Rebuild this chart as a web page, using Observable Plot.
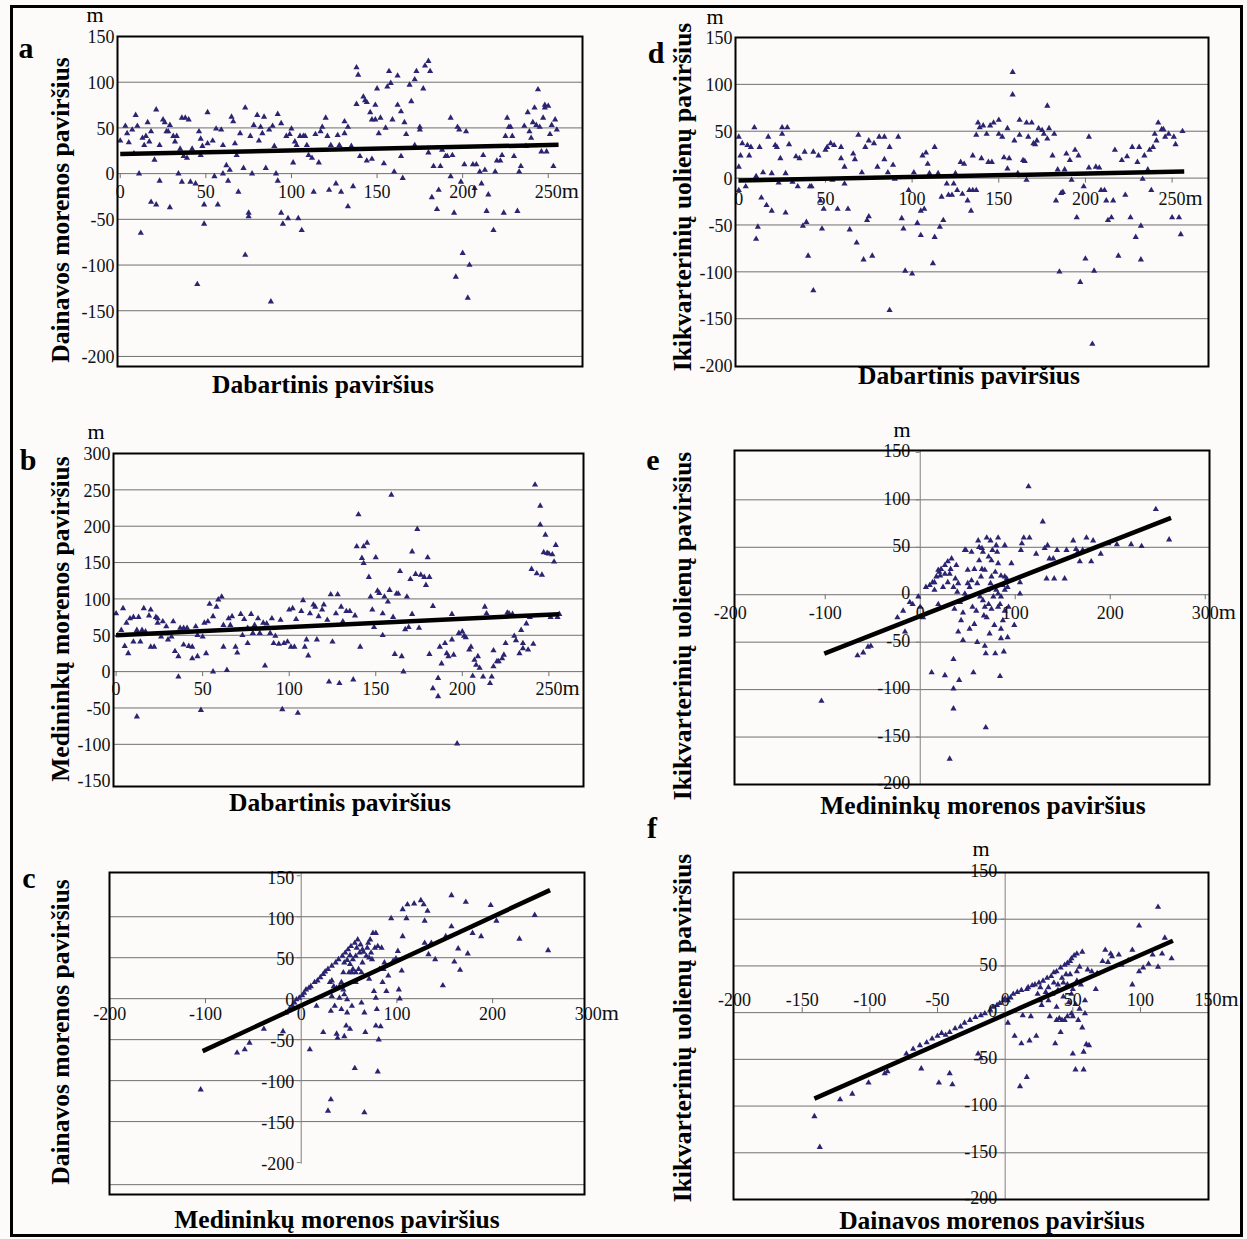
<!DOCTYPE html>
<html><head><meta charset="utf-8">
<script src="https://cdn.jsdelivr.net/npm/d3@7"></script>
<script src="https://cdn.jsdelivr.net/npm/@observablehq/plot@0.6"></script>
<style>
html,body{margin:0;padding:0;background:#fcfbf9;}
#fig{position:relative;width:1247px;height:1239px;overflow:hidden;background:#fcfbf9;font-family:"Liberation Serif","Times New Roman",serif;}
#fig svg{position:absolute;}
#border{position:absolute;left:10px;top:5px;width:1233px;height:1232px;border:3px solid #000;box-sizing:border-box;}
</style></head>
<body><div id="fig"><div id="border"></div></div>
<script>
// ---------- DATA ----------
// a: Dabartinis (x) vs Dainavos morenos (y)
const pointsA = [[0,36],[3,52],[4,44],[5,34],[7,48],[9,64],[8,22],[10,52],[11,0],[12,-65],[13,39],[14,31],[15,41],[16,56],[17,35],[18,-31],[18,46],[20,15],[21,-34],[21,70],[23,31],[23,-8],[25,59],[26,56],[27,46],[28,46],[29,53],[29,-37],[31,41],[32,35],[33,41],[34,0],[35,27],[36,-9],[36,61],[37,19],[38,61],[39,17],[40,59],[41,-9],[42,27],[44,-11],[45,-121],[46,46],[47,20],[47,38],[48,30],[49,-34],[49,-55],[51,33],[51,67],[54,36],[55,-3],[56,49],[57,-34],[59,48],[60,31],[60,0],[62,9],[63,-8],[64,4],[65,62],[66,57],[67,33],[68,20],[69,-20],[70,44],[72,6],[73,-89],[73,72],[75,-43],[75,-47],[76,41],[77,0],[78,53],[80,64],[81,36],[82,51],[83,44],[84,62],[85,6],[87,48],[88,-140],[89,52],[90,30],[91,0],[92,65],[92,-8],[94,55],[94,-43],[95,-55],[97,41],[98,-49],[99,43],[100,49],[101,12],[102,35],[103,31],[104,-49],[105,41],[106,-62],[107,41],[108,41],[109,31],[110,20],[112,17],[113,-20],[114,43],[116,12],[117,46],[118,51],[120,61],[121,41],[122,-18],[123,31],[126,-11],[127,42],[128,31],[129,-20],[131,44],[131,57],[133,51],[133,-36],[135,30],[136,-14],[138,116],[138,76],[139,108],[140,19],[142,84],[143,80],[144,14],[144,78],[146,67],[147,59],[147,16],[149,59],[149,75],[150,93],[151,44],[152,61],[154,11],[155,50],[156,95],[157,112],[158,99],[159,59],[160,2],[162,107],[162,75],[164,68],[164,19],[165,-5],[166,56],[167,43],[169,97],[170,79],[172,103],[172,31],[173,112],[175,51],[175,48],[177,93],[178,118],[180,123],[181,112],[180,23],[182,-26],[183,8],[185,-39],[186,-18],[187,8],[188,26],[190,19],[191,19],[193,-3],[193,61],[194,20],[195,-43],[196,-113],[197,51],[198,48],[199,-9],[200,-87],[201,10],[202,46],[203,-136],[204,-100],[206,10],[207,-16],[208,10],[210,2],[211,-11],[212,20],[213,4],[214,-41],[215,-23],[218,-62],[219,2],[220,14],[222,14],[223,20],[224,-43],[225,41],[226,61],[227,51],[228,51],[229,41],[230,19],[232,-41],[233,2],[234,8],[236,52],[238,67],[239,46],[240,39],[241,56],[242,72],[243,53],[244,92],[245,51],[247,61],[248,72],[248,75],[249,24],[250,74],[251,43],[252,53],[253,8],[254,59],[255,48],[237,30],[246,24]];
const trendA = [[0,21.5],[256,31.5]];

// d: Dabartinis (x) vs Ikikvarterinių uolienų (y)
const pointsD = [[0,44],[0,12],[0,-13],[1,24],[2,37],[4,-9],[5,35],[6,24],[7,33],[9,54],[10,2],[11,-52],[10,-65],[12,33],[13,-21],[14,6],[16,-29],[17,44],[19,-35],[19,5],[21,35],[22,33],[23,-5],[24,21],[25,54],[25,47],[27,5],[28,54],[27,-37],[29,36],[31,-4],[33,23],[34,-9],[35,21],[37,-51],[38,28],[39,-47],[40,-83],[41,-9],[42,-9],[43,28],[43,-120],[46,24],[47,-24],[48,-54],[49,-33],[50,30],[51,33],[53,37],[54,-2],[55,35],[57,-33],[59,33],[59,21],[61,12],[61,-6],[63,-33],[64,-55],[66,26],[67,20],[68,-69],[69,46],[71,6],[72,-87],[73,33],[74,-45],[75,-41],[75,40],[77,-83],[78,37],[80,12],[81,44],[84,44],[84,20],[86,6],[87,-141],[87,33],[89,14],[90,-1],[92,44],[94,-43],[95,-54],[96,-99],[98,-13],[100,-102],[101,6],[103,-48],[105,-35],[105,-61],[106,24],[107,-33],[108,27],[109,15],[110,5],[112,-91],[113,33],[113,-63],[115,5],[116,-52],[117,-20],[118,-45],[120,-6],[121,-18],[123,-18],[124,-6],[125,5],[126,-13],[128,17],[129,-17],[130,15],[132,-24],[133,-13],[134,-35],[135,24],[135,-13],[137,-13],[137,46],[138,59],[139,54],[140,21],[141,56],[143,47],[144,17],[145,56],[146,17],[147,59],[150,62],[150,47],[152,44],[153,22],[155,53],[155,10],[156,21],[158,113],[158,89],[159,40],[161,5],[162,62],[162,46],[164,19],[165,18],[166,-2],[166,59],[167,44],[169,59],[170,37],[171,36],[172,40],[173,53],[175,51],[176,47],[178,77],[178,42],[179,53],[181,24],[182,47],[183,-24],[184,9],[185,-100],[186,-16],[187,-15],[188,9],[189,26],[191,19],[192,-2],[194,30],[195,-42],[196,24],[197,-111],[199,-9],[200,-86],[202,11],[202,44],[204,-177],[205,-99],[206,12],[208,11],[209,-13],[211,-13],[212,-24],[213,-45],[215,-42],[216,-24],[217,30],[219,-83],[221,19],[223,-18],[224,23],[226,-42],[227,33],[229,-63],[230,17],[231,33],[232,-51],[232,-87],[233,-1],[234,24],[236,9],[237,30],[238,-13],[239,33],[240,47],[241,40],[242,59],[244,52],[245,52],[246,44],[248,47],[250,-42],[251,44],[252,36],[254,-42],[255,-60],[256,50]];
const trendD = [[0,-2.5],[257,7]];

// b: Dabartinis (x) vs Medininkų morenos (y)
const pointsB = [[0,80],[1,50],[3,57],[4,87],[5,35],[6,67],[7,25],[8,73],[10,75],[10,41],[12,57],[12,-62],[13,75],[14,41],[15,57],[16,87],[17,55],[19,77],[20,85],[20,34],[22,34],[23,75],[24,67],[24,73],[26,48],[27,69],[29,62],[30,44],[32,48],[33,69],[34,28],[36,21],[36,-7],[37,60],[39,37],[39,60],[41,60],[42,35],[44,18],[44,34],[46,62],[47,50],[47,21],[49,-53],[50,48],[51,67],[52,25],[53,69],[54,93],[56,0],[56,76],[58,89],[59,99],[61,103],[62,34],[62,64],[64,2],[65,73],[66,64],[67,76],[69,34],[70,26],[72,79],[73,50],[74,72],[76,60],[76,39],[78,79],[79,53],[80,64],[82,73],[83,53],[85,67],[86,8],[87,66],[89,53],[90,73],[91,39],[92,49],[94,38],[95,71],[96,-52],[97,39],[99,41],[100,85],[101,34],[102,87],[103,34],[104,72],[105,-57],[107,83],[108,98],[109,34],[110,44],[111,22],[112,80],[114,92],[115,89],[116,44],[117,76],[119,85],[120,92],[122,71],[123,-14],[124,106],[125,41],[127,80],[128,106],[129,-16],[130,89],[131,69],[133,83],[135,83],[137,-11],[138,77],[139,172],[140,216],[141,34],[142,156],[143,172],[143,149],[145,177],[146,130],[147,103],[148,85],[149,61],[150,157],[151,111],[152,108],[154,50],[154,80],[155,103],[157,96],[158,112],[159,243],[160,75],[161,24],[162,107],[163,107],[164,138],[165,21],[166,0],[167,58],[168,103],[169,61],[170,127],[171,165],[171,79],[173,134],[174,196],[175,60],[176,133],[178,130],[179,119],[180,157],[181,130],[181,24],[183,90],[183,-23],[186,-9],[186,-34],[187,34],[188,11],[190,39],[191,25],[192,21],[194,79],[194,44],[195,23],[197,-99],[198,53],[200,55],[201,49],[202,47],[204,30],[205,34],[206,-6],[207,16],[208,9],[209,21],[210,5],[212,-7],[213,89],[214,80],[216,-16],[217,-7],[218,7],[218,29],[220,14],[221,14],[223,18],[224,23],[225,39],[226,81],[227,80],[229,79],[230,49],[231,43],[233,25],[234,57],[235,39],[235,32],[237,66],[238,30],[239,75],[240,141],[241,38],[242,257],[243,135],[245,228],[245,202],[246,133],[247,164],[248,188],[249,163],[250,162],[251,75],[252,161],[253,151],[254,174],[255,75],[256,79]];
const trendB = [[0,50],[256,79]];

// e: Medininkų morenos (x) vs Ikikvarterinių uolienų (y)
const pointsE = [[-104,-112],[-66,-64],[-60,-61],[-55,-55],[-52,-54],[-24,-24],[-18,-17],[-16,-39],[-11,-8],[-8,-10],[-2,-2],[0,-13],[3,-24],[6,8],[10,10],[12,-82],[13,13],[15,5],[17,19],[19,-10],[20,24],[22,27],[24,8],[26,-85],[26,31],[29,35],[31,22],[31,-173],[33,38],[35,8],[35,-68],[35,-99],[35,-120],[36,-15],[38,31],[40,12],[40,-39],[41,-90],[43,-27],[45,-48],[47,47],[47,1],[48,-2],[50,12],[52,-36],[54,45],[55,-13],[56,-82],[57,27],[59,-17],[60,-50],[61,57],[62,36],[64,19],[65,49],[66,-6],[67,-22],[68,26],[68,-54],[69,-62],[69,-140],[71,5],[72,40],[73,-41],[74,57],[75,-15],[75,19],[76,47],[78,-32],[79,-62],[80,5],[82,33],[82,60],[84,-10],[84,-86],[85,-36],[85,-46],[87,10],[88,-60],[89,-17],[91,17],[92,-45],[93,-13],[96,33],[99,-32],[105,1],[105,13],[106,47],[107,54],[109,60],[114,114],[115,60],[122,43],[129,77],[131,49],[133,17],[134,52],[136,38],[140,38],[141,17],[144,47],[152,17],[154,47],[161,57],[164,48],[166,45],[168,35],[171,47],[175,60],[180,35],[182,57],[190,43],[198,54],[207,53],[222,53],[233,51],[248,90],[262,58],[15,13],[19,26],[21,20],[26,22],[29,13],[32,27],[37,17],[39,3],[42,-8],[45,-19],[48,47],[50,26],[52,8],[54,15],[57,-31],[60,12],[62,50],[63,-2],[65,27],[68,-13],[70,-24],[72,-10],[74,12],[75,36],[77,-2],[79,24],[81,45],[82,-13],[85,-2],[87,-27],[89,19],[89,5],[92,8],[89,52],[66,45],[70,60],[80,52],[82,1],[85,20]];
const trendE = [[-101,-62],[264,81]];

// c: Medininkų morenos (x) vs Dainavos morenos (y)
const pointsC = [[-105,-111],[-67,-66],[-59,-62],[-54,-54],[-39,-37],[-19,-40],[-16,-17],[-12,-12],[-9,-9],[-7,-5],[-5,-1],[-2,1],[1,4],[3,7],[5,11],[8,13],[9,-62],[10,15],[14,20],[16,-9],[17,22],[20,26],[23,30],[23,-41],[25,33],[28,36],[28,-137],[30,20],[31,-123],[31,-15],[32,40],[34,15],[35,-9],[36,44],[37,-43],[37,13],[38,-48],[39,48],[40,1],[42,20],[43,52],[44,11],[45,-46],[46,56],[47,-33],[48,-1],[49,60],[50,32],[51,-37],[51,53],[52,64],[53,-9],[54,48],[56,-85],[56,68],[57,20],[57,52],[59,72],[60,36],[61,56],[63,-5],[64,60],[64,44],[66,-139],[66,-17],[67,-41],[68,52],[70,68],[71,50],[71,24],[73,56],[75,80],[76,9],[77,62],[78,-33],[78,1],[79,-13],[80,-89],[81,-50],[82,36],[83,-34],[84,62],[85,20],[87,44],[89,9],[91,28],[94,98],[96,46],[99,49],[101,58],[102,11],[103,0],[105,34],[106,76],[106,109],[110,98],[111,115],[118,116],[125,120],[128,115],[129,95],[129,68],[132,107],[133,54],[136,68],[140,48],[148,16],[151,76],[157,88],[157,126],[160,45],[164,61],[166,35],[172,118],[174,55],[179,80],[188,76],[198,114],[204,95],[228,73],[244,102],[258,59],[44,32],[45,44],[48,47],[51,42],[54,36],[58,62],[62,66],[65,57],[69,62],[72,72],[74,48],[78,80],[80,64],[84,36],[86,36],[53,32],[57,32],[42,-13],[32,3],[48,-17],[63,32],[32,22],[40,15],[45,5]];
const trendC = [[-103,-64],[260,132.5]];

// f: Dainavos morenos (x) vs Ikikvarterinių uolienų (y)
const pointsF = [[-141,-111],[-137,-144],[-122,-93],[-113,-87],[-101,-75],[-89,-65],[-87,-63],[-73,-44],[-68,-39],[-63,-35],[-62,-60],[-58,-32],[-54,-28],[-49,-75],[-50,-25],[-47,-22],[-44,-24],[-41,-65],[-39,-77],[-41,-21],[-37,-17],[-33,-15],[-30,-11],[-26,-8],[-22,-5],[-20,-44],[-18,-49],[-18,-3],[-15,-1],[-11,3],[-9,6],[-6,8],[-4,10],[-1,13],[0,15],[2,13],[2,-11],[4,16],[6,20],[7,-25],[9,22],[11,-79],[12,-33],[12,24],[13,-3],[16,25],[16,-69],[17,27],[18,-30],[19,-4],[20,29],[22,30],[23,-25],[24,20],[25,32],[26,27],[27,8],[28,34],[30,22],[31,37],[32,27],[33,-4],[34,39],[35,20],[36,43],[37,-33],[38,6],[38,44],[39,30],[40,-6],[41,-21],[41,48],[43,17],[43,32],[44,51],[44,-8],[45,41],[46,53],[47,11],[48,55],[48,41],[49,-1],[49,58],[50,-44],[50,25],[51,61],[52,-61],[52,9],[53,44],[53,63],[54,-8],[55,49],[57,-16],[57,65],[58,-42],[58,-61],[59,13],[60,-34],[61,46],[62,-35],[64,44],[67,25],[68,42],[72,55],[74,67],[76,54],[78,63],[79,60],[84,62],[86,51],[91,56],[94,67],[94,30],[99,93],[99,44],[102,48],[106,52],[109,62],[113,113],[113,49],[116,63],[118,80],[123,58],[36,32],[39,24],[42,37],[46,30],[49,20],[53,34],[56,30],[32,13],[26,13],[38,-8],[42,-8],[46,-4],[50,-4],[55,4],[59,-1]];
const trendF = [[-141,-92],[124,77]];

// tick labels
const ticksX0to250 = [0, 50, 100, 150, 200, 250];
const ticksXm200to300 = [-200, -100, 0, 100, 200, 300];
const ticksXm200to150 = [-200, -150, -100, -50, 0, 50, 100, 150];
const ticksY150 = [150, 100, 50, 0, -50, -100, -150, -200];
const ticksY300 = [300, 250, 200, 150, 100, 50, 0, -50, -100, -150];

// ---------- DRAWING ----------
const fig = document.getElementById("fig");
const DOT = "#2a2471";

function panel(c) {
  const ml = 60, mr = 50, mt = 30, mb = 12;
  const [L, T, R, B] = c.frame;
  const W = R - L, H = B - T;
  const kx = W / (c.xDomain[1] - c.xDomain[0]);
  const ky = H / (c.yDomain[1] - c.yDomain[0]);
  const pts = c.points.map(([x, y]) => ({x, y}));
  const last = c.xticks[c.xticks.length - 1];
  const tickLen = c.tickUp ? 5 / ky : -5 / ky;
  const marks = [
    Plot.ruleY(c.grid, {stroke: "#707070", strokeWidth: 1}),
    Plot.ruleX(c.xticks.filter(t => t > c.xDomain[0] + 1 && t < c.xDomain[1] - 1), {x: d => d, y1: () => 0, y2: () => tickLen, stroke: "#707070", strokeWidth: 1})
  ];
  if (c.vaxis) {
    marks.push(Plot.ruleX([0], {y1: c.vaxis[0], y2: c.vaxis[1], stroke: "#808080", strokeWidth: 1}));
    marks.push(Plot.ruleY(c.yticks.filter(t => t >= c.vaxis[0] && t <= c.vaxis[1]), {y: d => d, x1: () => 0, x2: () => -4 / kx, stroke: "#808080", strokeWidth: 1}));
  }
  marks.push(
    Plot.dot(pts, {x: "x", y: "y", symbol: "triangle", r: 2.3, fill: DOT, stroke: "none"}),
    Plot.line(c.trend, {x: d => d[0], y: d => d[1], stroke: "#000", strokeWidth: 4.5, strokeLinecap: "butt"}),
    Plot.text(c.xticks, {x: d => d, y: () => 0, text: d => String(d), dy: c.xdy, fontSize: 18, fill: "#111"}),
    Plot.text([last], {x: d => d, y: () => 0, text: () => "m", dy: c.xdy - 1.5, dx: 13.5, textAnchor: "start", fontSize: 22, fill: "#111"})
  );
  if (c.yInside) {
    marks.push(Plot.text(c.yticks, {x: () => 0, y: d => d, text: d => String(d), textAnchor: "end", dx: c.ydx, dy: c.ydy, fontSize: 18, fill: "#111"}));
  } else {
    marks.push(Plot.text(c.yticks, {y: d => d, frameAnchor: "left", text: d => String(d), textAnchor: "end", dx: -3, dy: 1, fontSize: 18, fill: "#111"}));
  }
  marks.push(Plot.frame({stroke: "#000", strokeWidth: 2}));
  const svg = Plot.plot({
    width: W + ml + mr, height: H + mt + mb,
    marginLeft: ml, marginRight: mr, marginTop: mt, marginBottom: mb,
    x: {domain: c.xDomain, axis: null},
    y: {domain: c.yDomain, axis: null},
    style: {background: "transparent", fontFamily: "'Liberation Serif', 'Times New Roman', serif", overflow: "visible"},
    marks
  });
  svg.style.left = (L - ml) + "px";
  svg.style.top = (T - mt) + "px";
  svg.style.maxWidth = "none";
  fig.appendChild(svg);
}

panel({frame: [117, 36, 582, 366], xDomain: [-1.6, 270], yDomain: [-211, 150], points: pointsA, trend: trendA,
  grid: [100, 50, 0, -50, -100, -150, -200], xticks: ticksX0to250, yticks: ticksY150, xdy: 19});
panel({frame: [735, 37, 1208, 366], xDomain: [-1.9, 271], yDomain: [-201, 150], points: pointsD, trend: trendD,
  grid: [100, 50, 0, -50, -100, -150], xticks: ticksX0to250, yticks: ticksY150, xdy: 21});
panel({frame: [113, 453, 583, 786], xDomain: [-1.5, 270], yDomain: [-158, 300], points: pointsB, trend: trendB,
  grid: [250, 200, 150, 100, 50, 0, -50, -100], xticks: ticksX0to250, yticks: ticksY300, xdy: 18});
panel({frame: [734, 450, 1209, 784], xDomain: [-195.5, 304.5], yDomain: [-200, 152], points: pointsE, trend: trendE,
  grid: [100, 50, 0, -50, -100, -150], xticks: ticksXm200to300, yticks: ticksY150, xdy: 19,
  yInside: true, ydx: -10, ydy: -1, vaxis: [-200, 152]});
panel({frame: [109, 872, 584, 1194], xDomain: [-200.3, 296], yDomain: [-239, 154], points: pointsC, trend: trendC,
  grid: [100, 50, 0, -50, -100, -150, -227], xticks: ticksXm200to300, yticks: ticksY150, xdy: 16,
  yInside: true, ydx: -7, ydy: 2, vaxis: [-202, 154]});
panel({frame: [733, 872, 1208, 1199], xDomain: [-200.8, 150.3], yDomain: [-200, 150], points: pointsF, trend: trendF,
  grid: [100, 50, 0, -50, -100, -150], xticks: ticksXm200to150, yticks: ticksY150, xdy: -12, tickUp: true,
  yInside: true, ydx: -8, ydy: -1, vaxis: [-200, 150]});

// ---------- TITLES / LABELS ----------
const ov = d3.select(fig).append("svg").attr("width", 1247).attr("height", 1239)
  .style("left", "0px").style("top", "0px").style("pointer-events", "none")
  .style("font-family", "'Liberation Serif', 'Times New Roman', serif");

const letters = [["a", 26, 58], ["b", 28, 470], ["c", 29, 888], ["d", 656, 63], ["e", 653, 470], ["f", 652, 838]];
ov.selectAll("text.letter").data(letters).join("text").attr("class", "letter")
  .attr("x", d => d[1]).attr("y", d => d[2]).attr("text-anchor", "middle")
  .attr("font-size", 30).attr("font-weight", "bold").text(d => d[0]);

const xTitles = [["Dabartinis paviršius", 323, 393], ["Dabartinis paviršius", 969, 384], ["Dabartinis paviršius", 340, 811],
  ["Medininkų morenos paviršius", 983, 814], ["Medininkų morenos paviršius", 337, 1228], ["Dainavos morenos paviršius", 992, 1229]];
ov.selectAll("text.xt").data(xTitles).join("text").attr("class", "xt")
  .attr("x", d => d[1]).attr("y", d => d[2]).attr("text-anchor", "middle")
  .attr("font-size", 25.5).attr("font-weight", "bold").text(d => d[0]);

const yTitles = [["Dainavos morenos paviršius", 69, 210], ["Ikikvarterinių uolienų paviršius", 691, 197], ["Medininkų morenos paviršius", 69, 619],
  ["Ikikvarterinių uolienų paviršius", 691, 626], ["Dainavos morenos paviršius", 69, 1032], ["Ikikvarterinių uolienų paviršius", 691, 1028]];
ov.selectAll("text.yt").data(yTitles).join("text").attr("class", "yt")
  .attr("transform", d => `translate(${d[1]},${d[2]}) rotate(-90)`).attr("text-anchor", "middle")
  .attr("font-size", 25.5).attr("font-weight", "bold").text(d => d[0]);

const units = [[95, 22], [715, 24], [96, 439], [902, 437], [981, 856]];
ov.selectAll("text.unit").data(units).join("text").attr("class", "unit")
  .attr("x", d => d[0]).attr("y", d => d[1]).attr("text-anchor", "middle")
  .attr("font-size", 22).text("m");
</script>
</body></html>
